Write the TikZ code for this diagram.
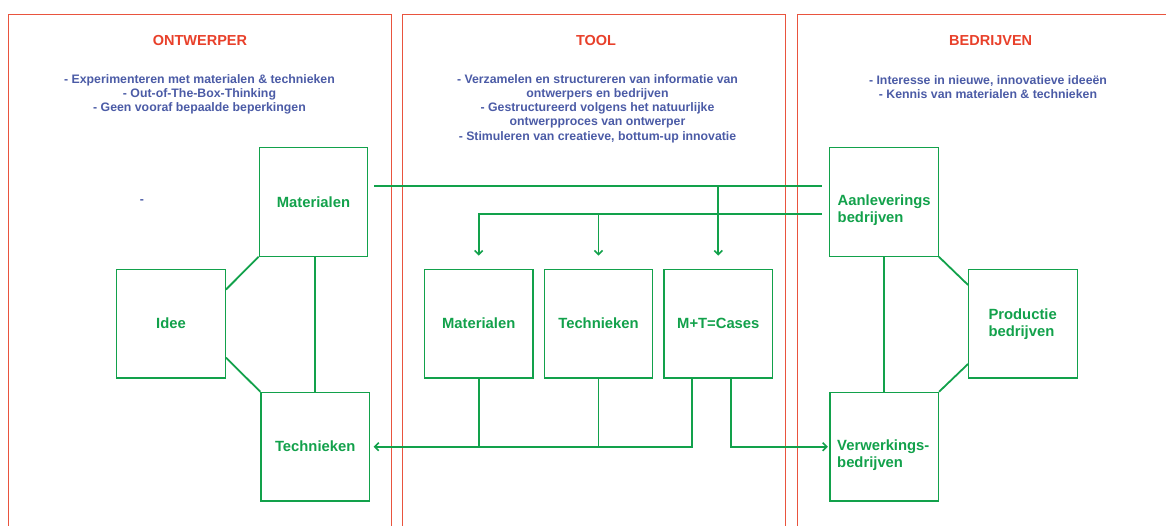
\documentclass[tikz,border=0pt]{standalone}
\usepackage{fontspec}
\setmainfont{Liberation Sans}
\usetikzlibrary{arrows.meta,calc}
\definecolor{panelred}{RGB}{233,84,62}
\definecolor{titlered}{RGB}{232,64,42}
\definecolor{txtblue}{RGB}{75,91,166}
\definecolor{grn}{RGB}{18,161,75}
\tikzset{
  panel/.style={draw=panelred,line width=1.1pt},
  title/.style={text=titlered,font=\fontsize{14.5}{17}\selectfont\bfseries,inner sep=0},
  info/.style={text=txtblue,font=\fontsize{12.3}{14.2}\selectfont\bfseries,align=center,inner sep=0},
  box/.style={draw=grn,line width=1.3pt,minimum width=108.5pt,minimum height=108.7pt,inner sep=0,
    text=grn,font=\fontsize{14.8}{17}\selectfont\bfseries},
  lbl/.style={text=grn,font=\fontsize{14.8}{17}\selectfont\bfseries,align=left,inner sep=0,anchor=west},
  conn/.style={draw=grn,line width=1.8pt},
  tip/.style={-{Straight Barb[length=4pt,width=8pt,line width=1.6pt]}},
}
\begin{document}
\begin{tikzpicture}[x=1pt,y=-1pt]
\useasboundingbox (0,0) rectangle (1166,525);
\clip (0,0) rectangle (1166,525);
% panels
\draw[panel] (8.7,540) -- (8.7,14.3) -- (391.7,14.3) -- (391.7,540);
\draw[panel] (402.7,540) -- (402.7,14.3) -- (785.7,14.3) -- (785.7,540);
\draw[panel] (797.3,540) -- (797.3,14.3) -- (1200,14.3) -- (1200,540);
% titles
\node[title] (tl) at (200,41) {ONTWERPER};
\node[title] (tm) at (596,41) {TOOL};
\node[title] (tr) at (990.7,41) {BEDRIJVEN};
% info
\node[info] (il) at (199.5,94.2) {- Experimenteren met materialen \& technieken\\- Out-of-The-Box-Thinking\\- Geen vooraf bepaalde beperkingen};
\node[info] (im) at (597.5,108.5) {- Verzamelen en structureren van informatie van\\ontwerpers en bedrijven\\- Gestructureerd volgens het natuurlijke\\ontwerpproces van ontwerper\\- Stimuleren van creatieve, bottum-up innovatie};
\node[info] (ir) at (988,87.2) {- Interesse in nieuwe, innovatieve ideeën\\- Kennis van materialen \& technieken};
\node[info] (dash) at (142,201.7) {-};
% boxes
\node[box] (m1) at (313.5,201.8) {Materialen};
\node[box] (id) at (171,323.6) {Idee};
\node[box] (t1) at (315.2,446.7) {Technieken};
\node[box] (m2) at (478.7,323.6) {Materialen};
\node[box] (t2) at (598.5,323.6) {Technieken};
\node[box] (mt) at (718.3,323.6) {M+T=Cases};
\node[box] (aa) at (884,201.8) {};
\node[box] (pr) at (1023,323.6) {};
\node[box] (vw) at (884.2,446.7) {};
\node[lbl] (aal) at (837.5,210.2) {Aanleverings\\bedrijven};
\node[lbl] (prl) at (988.3,323.7) {Productie\\bedrijven};
\node[lbl] (vwl) at (837,455) {Verwerkings-\\bedrijven};
% left connectors
\draw[conn] ([yshift=-21pt]id.north east) -- (m1.south west);
\draw[conn] ([yshift=21pt]id.south east) -- (t1.north west);
\draw[conn] (m1.south -| t1.north) -- (t1.north);
% right connectors
\draw[conn] (aa.south east) -- ([yshift=-16.4pt]pr.north west);
\draw[conn] ([yshift=14.7pt]pr.south west) -- (vw.north east);
\draw[conn] (aa.south) -- (aa.south |- vw.north);
% top lines
\coordinate (l1) at ([yshift=15.8pt]aa.west);
\coordinate (l2) at ([yshift=-12.2pt]aa.west);
\draw[conn,shorten <=5.6pt,shorten >=7.5pt] ([yshift=15.8pt]m1.east) -- (l1);
\draw[conn,tip,shorten <=7.5pt,shorten >=13pt] (l2) -| (m2.north);
\draw[conn,tip,shorten >=13pt] (l2 -| t2.north) -- (t2.north);
\draw[conn,tip,shorten >=13pt] (l1 -| mt.north) -- (mt.north);
% bottom lines
\draw[conn] (m2.south) -- (m2.south |- t1.east);
\draw[conn] (t2.south) -- (t2.south |- t1.east);
\draw[conn,tip,shorten >=3.5pt] ([xshift=-26pt]mt.south) |- (t1.east);
\draw[conn,tip,shorten >=1.5pt] ([xshift=12.7pt]mt.south) |- (vw.west);
\end{tikzpicture}
\end{document}
